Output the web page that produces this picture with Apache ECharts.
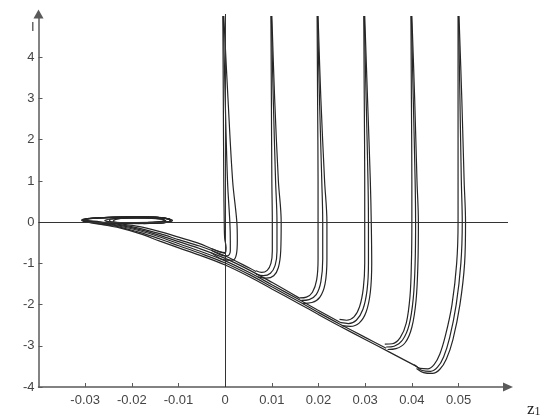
<!DOCTYPE html>
<html>
<head>
<meta charset="utf-8">
<title>z1 phase plot</title>
<script src="https://cdn.jsdelivr.net/npm/echarts@6/dist/echarts.min.js"></script>
<style>
  html, body { margin: 0; padding: 0; background: #fff; }
  #chart { width: 542px; height: 420px; }
</style>
</head>
<body>
<div id="chart"></div>
<script>
// axis ticks
const xTicks = [-0.03, -0.02, -0.01, 0, 0.01, 0.02, 0.03, 0.04, 0.05]
const yTicks = [-4, -3, -2, -1, 0, 1, 2, 3, 4]
const yStrayMark = 4.73 // the lone "I" printed above 4

// falling branches, three traces for each starting column
const drop0 = [
  [[-0.0005, 5], [-0.0004, 3], [-0.0003, 1], [-0.0002, 0], [-0.0001, -0.40], [0.0002, -0.62], [0.0000, -0.74], [-0.0012, -0.72], [-0.0030, -0.64]],
  [[-0.0004, 5], [0.0000, 3], [0.0005, 1], [0.0010, 0], [0.0011, -0.45], [0.0011, -0.70], [0.0005, -0.82], [-0.0008, -0.80], [-0.0030, -0.68]],
  [[-0.0003, 5], [0.0006, 3], [0.0016, 1], [0.0025, 0], [0.0026, -0.45], [0.0024, -0.78], [0.0016, -0.92], [0.0002, -0.92], [-0.0030, -0.74]]
]
const drop1 = [
  [[0.0098, 5], [0.0099, 3], [0.0100, 1], [0.0101, 0], [0.0101, -0.7], [0.0098, -1.0], [0.0090, -1.17], [0.0078, -1.22], [0.0066, -1.18]],
  [[0.0099, 5], [0.0103, 3], [0.0108, 1], [0.0111, 0], [0.0111, -0.7], [0.0107, -1.05], [0.0097, -1.24], [0.0082, -1.30], [0.0066, -1.26]],
  [[0.0100, 5], [0.0106, 3], [0.0114, 1], [0.0120, 0], [0.0119, -0.7], [0.0114, -1.1], [0.0104, -1.30], [0.0088, -1.36], [0.0070, -1.33]]
]
const drop2 = [
  [[0.0197, 5], [0.0198, 3], [0.0199, 1], [0.0199, 0], [0.0199, -0.9], [0.0196, -1.4], [0.0187, -1.70], [0.0174, -1.82], [0.0160, -1.84]],
  [[0.0198, 5], [0.0202, 3], [0.0207, 1], [0.0209, 0], [0.0209, -0.9], [0.0205, -1.45], [0.0195, -1.76], [0.0180, -1.88], [0.0163, -1.90]],
  [[0.0199, 5], [0.0205, 3], [0.0213, 1], [0.0218, 0], [0.0218, -0.9], [0.0214, -1.5], [0.0203, -1.82], [0.0186, -1.95], [0.0166, -1.97]]
]
const drop3 = [
  [[0.0297, 5], [0.0298, 3], [0.0299, 1], [0.0299, 0], [0.0299, -1], [0.0296, -1.6], [0.0288, -2.05], [0.0276, -2.30], [0.0260, -2.38], [0.0245, -2.36]],
  [[0.0298, 5], [0.0302, 3], [0.0306, 1], [0.0307, 0], [0.0307, -1], [0.0304, -1.65], [0.0295, -2.12], [0.0281, -2.38], [0.0264, -2.46], [0.0248, -2.44]],
  [[0.0299, 5], [0.0305, 3], [0.0311, 1], [0.0313, 0], [0.0314, -1], [0.0311, -1.7], [0.0302, -2.18], [0.0287, -2.45], [0.0268, -2.53], [0.0250, -2.51]]
]
const drop4 = [
  [[0.0398, 5], [0.0399, 3], [0.0400, 1], [0.0400, 0], [0.0399, -1], [0.0396, -1.8], [0.0388, -2.45], [0.0375, -2.80], [0.0358, -2.95], [0.0342, -2.96]],
  [[0.0399, 5], [0.0403, 3], [0.0407, 1], [0.0408, 0], [0.0407, -1], [0.0403, -1.85], [0.0394, -2.50], [0.0380, -2.86], [0.0362, -3.01], [0.0345, -3.03]],
  [[0.0400, 5], [0.0406, 3], [0.0411, 1], [0.0414, 0], [0.0413, -1], [0.0409, -1.9], [0.0400, -2.55], [0.0386, -2.92], [0.0366, -3.07], [0.0348, -3.09]]
]
const drop5 = [
  [[0.0499, 5], [0.0499, 3], [0.0499, 1], [0.0499, 0], [0.0496, -1], [0.0486, -2], [0.0472, -2.75], [0.0460, -3.2], [0.0448, -3.45], [0.0434, -3.56], [0.0418, -3.55], [0.0405, -3.46]],
  [[0.0500, 5], [0.0503, 3], [0.0506, 1], [0.0508, 0], [0.0505, -1], [0.0495, -2], [0.0481, -2.8], [0.0468, -3.27], [0.0455, -3.52], [0.0440, -3.62], [0.0422, -3.60], [0.0410, -3.50]],
  [[0.0501, 5], [0.0507, 3], [0.0512, 1], [0.0515, 0], [0.0513, -1], [0.0503, -2], [0.0488, -2.85], [0.0474, -3.32], [0.0460, -3.57], [0.0444, -3.67], [0.0425, -3.65], [0.0410, -3.55]]
]

// sliding branches: up the diagonal and round the small loop near z1 = -0.02
const slide0 = [[0.0000, -0.76], [-0.0030, -0.64], [-0.0055, -0.52], [-0.0098, -0.37], [-0.0140, -0.23], [-0.0183, -0.11], [-0.0226, -0.04], [-0.0269, 0.01], [-0.0302, 0.055], [-0.0280, 0.10], [-0.0230, 0.125], [-0.0175, 0.13], [-0.0135, 0.105], [-0.0118, 0.06], [-0.0120, 0.015], [-0.0140, -0.02], [-0.0185, -0.035], [-0.0235, -0.01], [-0.0258, 0.04], [-0.0225, 0.09], [-0.0172, 0.105], [-0.0135, 0.075], [-0.0127, 0.03], [-0.0148, 0.0], [-0.0190, -0.01]]
const slide1 = [[0.0066, -1.20], [0.0053, -1.12], [0.0000, -0.82], [-0.0055, -0.58], [-0.0098, -0.43], [-0.0140, -0.28], [-0.0183, -0.15], [-0.0226, -0.06], [-0.0269, 0.00], [-0.0303, 0.05], [-0.0288, 0.095], [-0.0240, 0.12], [-0.0185, 0.13], [-0.0140, 0.11], [-0.0120, 0.07], [-0.0118, 0.02], [-0.0135, -0.015], [-0.0175, -0.035]]
const slide2 = [[0.0160, -1.85], [0.0100, -1.46], [0.0053, -1.17], [0.0000, -0.88], [-0.0055, -0.64], [-0.0098, -0.48], [-0.0140, -0.32], [-0.0183, -0.18], [-0.0226, -0.08], [-0.0269, -0.01], [-0.0305, 0.05], [-0.0292, 0.09], [-0.0250, 0.115], [-0.0195, 0.13], [-0.0150, 0.12], [-0.0124, 0.085], [-0.0116, 0.04], [-0.0125, 0.0], [-0.0155, -0.025], [-0.0205, -0.025], [-0.0245, 0.01], [-0.0248, 0.06], [-0.0205, 0.10], [-0.0160, 0.095], [-0.0132, 0.06], [-0.0135, 0.02], [-0.0165, -0.005]]
const slide3 = [[0.0248, -2.44], [0.0198, -2.13], [0.0160, -1.89], [0.0100, -1.52], [0.0053, -1.23], [0.0000, -0.94], [-0.0055, -0.70], [-0.0098, -0.53], [-0.0140, -0.36], [-0.0183, -0.21], [-0.0226, -0.10], [-0.0269, -0.02], [-0.0304, 0.04], [-0.0296, 0.08], [-0.0260, 0.105], [-0.0210, 0.12], [-0.0160, 0.12], [-0.0128, 0.09], [-0.0117, 0.05], [-0.0120, 0.01], [-0.0140, -0.02]]
const slide4 = [[0.0345, -3.06], [0.0299, -2.79], [0.0245, -2.47], [0.0198, -2.18], [0.0160, -1.94], [0.0100, -1.57], [0.0053, -1.28], [0.0000, -0.99], [-0.0055, -0.75], [-0.0098, -0.58], [-0.0140, -0.41], [-0.0183, -0.25], [-0.0226, -0.12], [-0.0269, -0.04], [-0.0303, 0.02], [-0.0306, 0.06], [-0.0285, 0.09], [-0.0240, 0.115], [-0.0190, 0.13], [-0.0145, 0.115], [-0.0120, 0.075], [-0.0116, 0.03], [-0.0130, -0.01], [-0.0165, -0.03], [-0.0215, -0.02], [-0.0240, 0.02], [-0.0232, 0.075], [-0.0190, 0.10], [-0.0148, 0.085], [-0.0130, 0.045], [-0.0140, 0.01], [-0.0175, -0.01]]
const slide5 = [[0.0410, -3.50], [0.0353, -3.16], [0.0299, -2.84], [0.0245, -2.52], [0.0198, -2.23], [0.0160, -1.99], [0.0100, -1.62], [0.0053, -1.33], [0.0000, -1.04], [-0.0055, -0.80], [-0.0098, -0.63], [-0.0140, -0.46], [-0.0183, -0.28], [-0.0226, -0.14], [-0.0269, -0.05], [-0.0300, 0.01], [-0.0308, 0.05], [-0.0290, 0.085], [-0.0250, 0.11], [-0.0200, 0.125], [-0.0150, 0.115], [-0.0122, 0.08], [-0.0113, 0.04], [-0.0122, 0.0], [-0.0150, -0.025], [-0.0200, -0.03]]

const drops = [drop0, drop1, drop2, drop3, drop4, drop5]
const slides = [slide0, slide1, slide2, slide3, slide4, slide5]

const traceStyle = { color: '#262626', width: 1.2 }
const axisColor = '#5a5a5a'
const labelStyle = { color: '#454545', fontSize: 13, fontFamily: 'Liberation Sans, Arial, sans-serif' }

function traceSeries(data) {
  return {
    type: 'line',
    data,
    showSymbol: false,
    smooth: 0.35,
    lineStyle: traceStyle,
    silent: true
  }
}

const series = []
drops.forEach((group) => group.forEach((d) => series.push(traceSeries(d))))
slides.forEach((d) => series.push(traceSeries(d)))

// the two reference lines z1 = 0 and z2 = 0
series.push({
  type: 'line',
  data: [],
  markLine: {
    silent: true,
    symbol: 'none',
    label: { show: false },
    lineStyle: { color: '#333', width: 1, type: 'solid' },
    data: [{ yAxis: 0 }, { xAxis: 0 }]
  }
})

const chart = echarts.init(document.getElementById('chart'), null, { renderer: 'canvas' })

chart.setOption({
  animation: false,
  backgroundColor: '#fff',
  grid: { left: 38.5, right: 34, top: 14, bottom: 33 },
  xAxis: {
    type: 'value',
    min: -0.04,
    max: 0.0606,
    splitLine: { show: false },
    axisLine: {
      onZero: false,
      symbol: ['none', 'triangle'],
      symbolSize: [9, 10],
      lineStyle: { color: axisColor, width: 1.5 }
    },
    axisTick: { inside: true, length: 4, customValues: xTicks, lineStyle: { color: axisColor } },
    axisLabel: { margin: 7, customValues: xTicks, ...labelStyle }
  },
  yAxis: {
    type: 'value',
    min: -4,
    max: 5.05,
    splitLine: { show: false },
    axisLine: {
      onZero: false,
      symbol: ['none', 'triangle'],
      symbolSize: [10, 9],
      lineStyle: { color: axisColor, width: 1.5 }
    },
    axisTick: { inside: true, length: 4, customValues: yTicks, lineStyle: { color: axisColor } },
    axisLabel: {
      margin: 4,
      customValues: [...yTicks, yStrayMark],
      formatter: (v) => (v === yStrayMark ? 'I' : String(v)),
      ...labelStyle
    }
  },
  graphic: [
    {
      type: 'text',
      left: 527,
      top: 401,
      style: {
        text: '{z|z}{s|1}',
        rich: {
          z: { fontSize: 17, fontFamily: 'Liberation Serif, Times New Roman, serif', fill: '#222' },
          s: { fontSize: 12, fontFamily: 'Liberation Serif, Times New Roman, serif', fill: '#222', padding: [5, 0, 0, 0] }
        }
      }
    }
  ],
  series
})
</script>
</body>
</html>
